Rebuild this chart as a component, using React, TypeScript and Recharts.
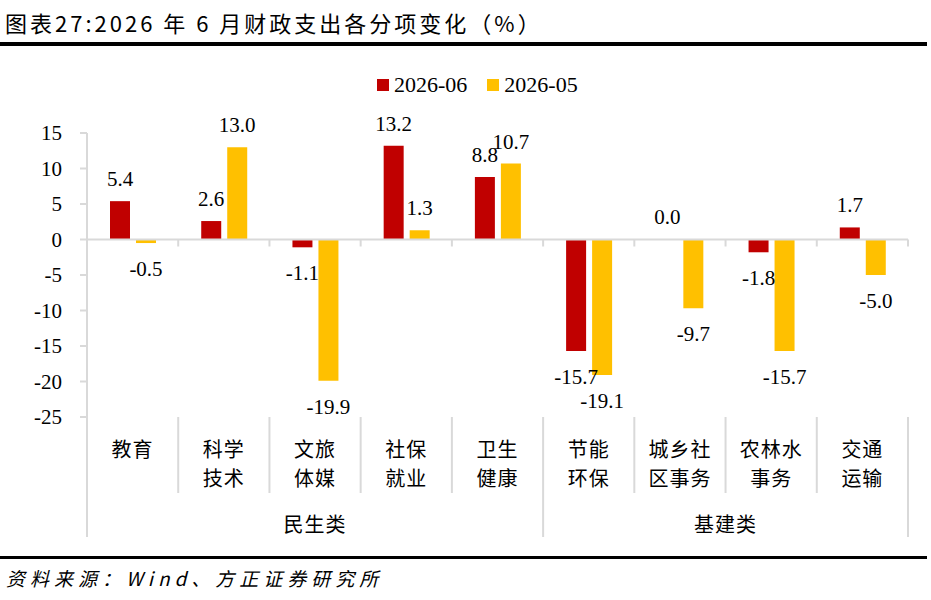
import { Bar, BarChart, LabelList, ReferenceLine, XAxis, YAxis } from "recharts";

const categories = ["教育", "科学\n技术", "文旅\n体媒", "社保\n就业", "卫生\n健康", "节能\n环保", "城乡社\n区事务", "农林水\n事务", "交通\n运输"];
const june = [5.4, 2.6, -1.1, 13.2, 8.8, -15.7, 0.0, -1.8, 1.7];
const may = [-0.5, 13.0, -19.9, 1.3, 10.7, -19.1, -9.7, -15.7, -5.0];
const groups = [
    { name: "民生类", start: 0, count: 5 },
    { name: "基建类", start: 5, count: 4 },
];
const yTicks = [-25, -20, -15, -10, -5, 0, 5, 10, 15];
const seriesNames = ["2026-06", "2026-05"];
const COLORS = ["#C00000", "#FFC000"];

const GRID = "#D9D9D9";
const SERIF = "'Liberation Serif', 'Times New Roman', serif";
const CJK = "'Noto Sans CJK SC', sans-serif";

const data = categories.map((name, i) => ({ name, june: june[i], may: may[i] }));

function YTick(props: any) {
    const { x, y, payload } = props;
    return (
        <text x={x} y={y} textAnchor="end" dominantBaseline="central" fontFamily={SERIF} fontSize={21} fill="#000">
            {payload.value}
        </text>
    );
}

function CategoryTick(props: any) {
    const { x, y, payload } = props;
    const i = payload.index;
    const half = payload.offset || 45.6;
    const left = x - half;
    const group = groups.find((g) => g.start === i);
    const lines = String(payload.value).split("\n");
    return (
        <g>
            <line x1={left} x2={left} y1={y} y2={y + (group ? 120 : 76)} stroke={GRID} strokeWidth={2} />
            {i === categories.length - 1 && (
                <line x1={x + half} x2={x + half} y1={y} y2={y + 120} stroke={GRID} strokeWidth={2} />
            )}
            {lines.map((t, k) => (
                <text key={k} x={x} y={y + 31 + k * 29} textAnchor="middle" dominantBaseline="central"
                    fontFamily={CJK} fontSize={20} letterSpacing={1} fill="#000">
                    {t}
                </text>
            ))}
            {group && (
                <text x={left + group.count * half} y={y + 106} textAnchor="middle" dominantBaseline="central"
                    fontFamily={CJK} fontSize={20} letterSpacing={1} fill="#000">
                    {group.name}
                </text>
            )}
        </g>
    );
}

function ZeroLine(props: any) {
    const { x1, x2, y1 } = props;
    const step = (x2 - x1) / categories.length;
    return (
        <g>
            <line x1={x1} x2={x2} y1={y1} y2={y1} stroke={GRID} strokeWidth={2} />
            {categories.map((_, i) => (
                <line key={i} x1={x1 + step * (i + 1)} x2={x1 + step * (i + 1)} y1={y1} y2={y1 + 7} stroke={GRID} strokeWidth={2} />
            ))}
        </g>
    );
}

function ValueLabel(props: any) {
    const vb = props.viewBox && props.viewBox.x != null ? props.viewBox : props;
    const { x, y, width, height } = vb;
    const value = Number(props.value);
    const top = Math.min(y, y + height);
    const bottom = Math.max(y, y + height);
    const cy = value >= 0 ? top - 22 : bottom + 26;
    return (
        <text x={x + width / 2} y={cy} textAnchor="middle" dominantBaseline="central" fontFamily={SERIF} fontSize={21} fill="#000">
            {value.toFixed(1)}
        </text>
    );
}

export default function App() {
    return (
        <div style={{ position: "absolute", left: 0, top: 0, width: 931, height: 600, background: "#fff" }}>
            <BarChart width={931} height={545} data={data} margin={{ top: 133, right: 23, bottom: 0, left: 0 }} barGap={6}>
                <YAxis
                    domain={[-25, 15]}
                    ticks={yTicks}
                    width={87}
                    axisLine={{ stroke: GRID, strokeWidth: 2 }}
                    tickLine={{ stroke: GRID, strokeWidth: 2 }}
                    tickSize={7}
                    tickMargin={18}
                    tick={<YTick />}
                />
                <XAxis
                    dataKey="name"
                    height={128}
                    interval={0}
                    axisLine={false}
                    tickLine={false}
                    tickSize={0}
                    tickMargin={0}
                    tick={<CategoryTick />}
                />
                <ReferenceLine y={0} shape={<ZeroLine />} />
                <Bar dataKey="june" name={seriesNames[0]} fill={COLORS[0]} barSize={20} minPointSize={0.01} isAnimationActive={false}>
                    <LabelList dataKey="june" content={<ValueLabel />} />
                </Bar>
                <Bar dataKey="may" name={seriesNames[1]} fill={COLORS[1]} barSize={20} isAnimationActive={false}>
                    <LabelList dataKey="may" content={<ValueLabel />} />
                </Bar>
            </BarChart>

            <div style={{ position: "absolute", left: 5, top: 8, lineHeight: "28px", fontFamily: CJK, fontSize: 22, letterSpacing: 3, color: "#000", whiteSpace: "nowrap" }}>
                图表27:2026 年 6 月财政支出各分项变化（%）
            </div>
            <div style={{ position: "absolute", left: 0, top: 42, width: 927, height: 4, background: "#000" }} />

            <div style={{ position: "absolute", left: 377, top: 72, height: 26, display: "flex", alignItems: "center", fontFamily: SERIF, fontSize: 22, color: "#000" }}>
                {seriesNames.map((n, i) => (
                    <div key={n} style={{ display: "flex", alignItems: "center", marginRight: i === 0 ? 20 : 0 }}>
                        <span style={{ display: "inline-block", width: 12, height: 12, background: COLORS[i], marginRight: 5 }} />
                        <span>{n}</span>
                    </div>
                ))}
            </div>

            <div style={{ position: "absolute", left: 0, top: 556, width: 927, height: 3, background: "#000" }} />
            <div style={{ position: "absolute", left: 6, top: 564, lineHeight: "28px", fontFamily: CJK, fontSize: 19, fontStyle: "italic", letterSpacing: 5, color: "#000", whiteSpace: "nowrap" }}>
                资料来源：Wind、方正证券研究所
            </div>
        </div>
    );
}
